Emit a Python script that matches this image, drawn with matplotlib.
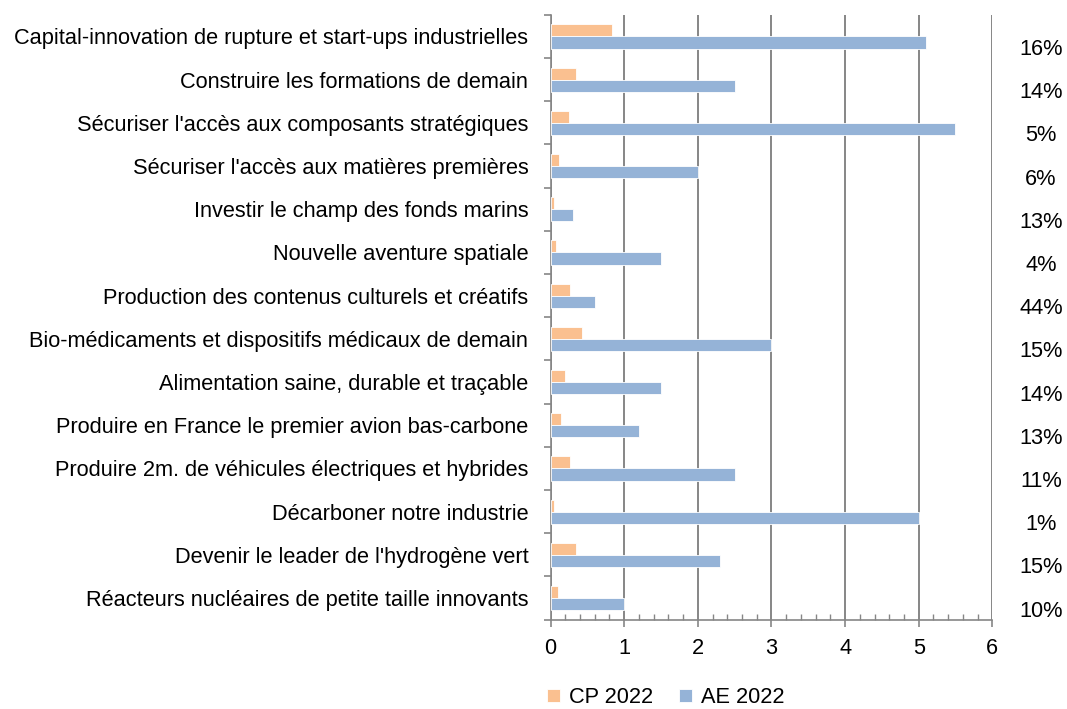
import numpy as np
import matplotlib.pyplot as plt
from matplotlib.ticker import MultipleLocator, FixedLocator

plt.rcParams['font.family'] = ['Liberation Sans', 'DejaVu Sans']

categories = [
    "Capital-innovation de rupture et start-ups industrielles",
    "Construire les formations de demain",
    "Sécuriser l'accès aux composants stratégiques",
    "Sécuriser l'accès aux matières premières",
    "Investir le champ des fonds marins",
    "Nouvelle aventure spatiale",
    "Production des contenus culturels et créatifs",
    "Bio-médicaments et dispositifs médicaux de demain",
    "Alimentation saine, durable et traçable",
    "Produire en France le premier avion bas-carbone",
    "Produire 2m. de véhicules électriques et hybrides",
    "Décarboner notre industrie",
    "Devenir le leader de l'hydrogène vert",
    "Réacteurs nucléaires de petite taille innovants",
]
cp_2022 = [0.83, 0.34, 0.25, 0.12, 0.05, 0.07, 0.27, 0.43, 0.20, 0.14, 0.27, 0.05, 0.34, 0.10]
ae_2022 = [5.1, 2.5, 5.5, 2.0, 0.3, 1.5, 0.6, 3.0, 1.5, 1.2, 2.5, 5.0, 2.3, 1.0]
ratios = ["16%", "14%", "5%", "6%", "13%", "4%", "44%", "15%", "14%", "13%", "11%", "1%", "15%", "10%"]

fs = 15.7

fig = plt.figure(figsize=(10.67, 7.09), dpi=100)
ax = fig.add_axes([0.516, 0.126, 0.414, 0.853])

y = np.arange(len(categories))
h = 0.28
ax.barh(y - h / 2, cp_2022, height=h, color='#FAC090', edgecolor='white', linewidth=0.6, label='CP 2022', zorder=3)
ax.barh(y + h / 2, ae_2022, height=h, color='#95B3D7', edgecolor='white', linewidth=0.6, label='AE 2022', zorder=3)

ax.set_ylim(len(categories) - 0.5, -0.5)
ax.set_xlim(0, 6)
ax.set_yticks(y)
ax.set_yticklabels(categories, fontsize=fs)
ax.yaxis.set_major_locator(FixedLocator(y))
ax.yaxis.set_minor_locator(FixedLocator(np.arange(len(categories) + 1) - 0.5))
ax.tick_params(axis='y', which='major', length=0, pad=16)
ax.tick_params(axis='y', which='minor', length=5, width=1.2, color='#868686', direction='out')

ax.xaxis.set_major_locator(MultipleLocator(1))
ax.xaxis.set_minor_locator(MultipleLocator(0.2))
ax.tick_params(axis='x', which='major', length=5, width=1.2, color='#868686', direction='out', labelsize=fs, pad=8)
ax.tick_params(axis='x', which='minor', length=4, width=1, color='#868686', direction='in')

ax.grid(axis='x', color='#868686', linewidth=1.4, zorder=0)
for s in ['top', 'right']:
    ax.spines[s].set_visible(False)
for s in ['left', 'bottom']:
    ax.spines[s].set_color('#868686')
    ax.spines[s].set_linewidth(1.2)

for i, r in enumerate(ratios):
    ax.text(1.11, i + 0.3, r, transform=ax.get_yaxis_transform(), ha='center', va='center', fontsize=fs)

ax.legend(loc='upper center', bbox_to_anchor=(0.26, -0.09), ncol=2, frameon=False, fontsize=fs,
          handlelength=0.6, handleheight=0.6, columnspacing=1.2, handletextpad=0.4, borderpad=0.1)

fig.savefig('out.png', dpi=100)
